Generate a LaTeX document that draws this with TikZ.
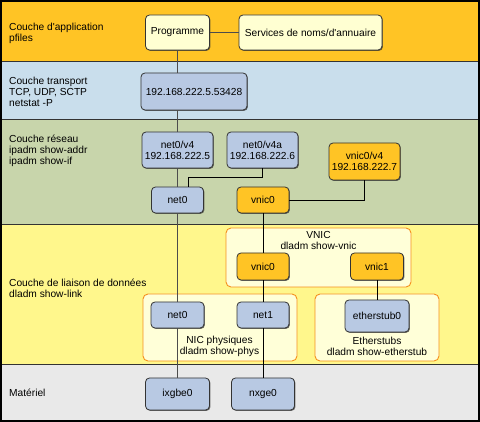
\documentclass[tikz,border=0pt]{standalone}
\usepackage{fontspec}
\setmainfont{Liberation Sans}
\usetikzlibrary{shadows}

\definecolor{bandapp}{HTML}{FFC425}
\definecolor{bandtrp}{HTML}{C9DEEC}
\definecolor{bandnet}{HTML}{C8D5AB}
\definecolor{bandlnk}{HTML}{FFF78C}
\definecolor{bandhw}{HTML}{E9E9E9}
\definecolor{boxblue}{HTML}{B8C9E3}
\definecolor{boxpale}{HTML}{FFFFD2}
\definecolor{boxorng}{HTML}{FFC425}
\definecolor{grpline}{HTML}{F5901E}
\definecolor{grpfill}{HTML}{FFFFD8}

\tikzset{
  band/.style={draw=black!80,line width=1pt},
  nbox/.style={draw=black!80,line width=0.8pt,rounded corners=4pt,align=center,inner sep=2pt,
    drop shadow={shadow xshift=0.9pt,shadow yshift=-0.9pt,opacity=0.7,fill=black!80}},
  bluebox/.style={nbox,fill=boxblue},
  palebox/.style={nbox,fill=boxpale},
  orngbox/.style={nbox,fill=boxorng},
  grpbox/.style={draw=grpline,fill=grpfill,line width=0.9pt,rounded corners=5pt},
  lbl/.style={anchor=west,align=left,inner sep=0pt},
  mainlink/.style={draw=black!70,line width=1.5pt},
  sidelink/.style={draw=black,line width=0.8pt}
}

\begin{document}
\begin{tikzpicture}[x=1pt,y=-1pt,font=\fontsize{10.2}{11}\selectfont]
        \useasboundingbox (0,0) rectangle (480,422);
        % \draw[step=20,gray,very thin] (0,0) grid (480,422);

        % layers
        \draw[band,fill=bandapp] (1,1) rectangle (478,62);
        \draw[band,fill=bandtrp] (1,62) rectangle (478,120);
        \draw[band,fill=bandnet] (1,120) rectangle (478,225);
        \draw[band,fill=bandlnk] (1,225) rectangle (478,365);
        \draw[band,fill=bandhw] (1,365) rectangle (478,421);
        \draw[line width=2pt] (1,1) rectangle (479,421);

        \node[lbl] (lapp) at (9,33.5) {Couche d\textquotesingle application\\pfiles};
        \node[lbl] (ltrp) at (9,92) {Couche transport\\TCP, UDP, SCTP\\netstat -P};
        \node[lbl] (lnet) at (9,151) {Couche réseau\\ipadm show-addr\\ipadm show-if};
        \node[lbl] (llnk) at (9,288.5) {Couche de liaison de données\\dladm show-link};
        \node[lbl] (lhw) at (9,393) {Matériel};

        % groups
        \draw[grpbox] (226,228) rectangle (411,287);
        \draw[grpbox] (143,294) rectangle (297,361);
        \draw[grpbox] (315,294) rectangle (439,361);
        \node[align=center] (gvnic) at (318.5,240.5) {VNIC\\dladm show-vnic};
        \node[align=center] (gphys) at (219.5,346) {NIC physiques\\dladm show-phys};
        \node[align=center] (gstub) at (377,346) {Etherstubs\\dladm show-etherstub};

        % application / transport
        \node[palebox,minimum width=64pt,minimum height=35pt] (prog) at (177.5,32.5) {Programme};
        \node[palebox,minimum width=143pt,minimum height=35pt] (svc) at (310.5,32.5) {Services de noms/d\textquotesingle annuaire};
        \node[bluebox,minimum width=106pt,minimum height=37pt] (tcp) at (194,91.5) {192.168.222.5.53428};

        % network
        \node[bluebox,minimum width=71pt,minimum height=36pt] (netv4) at (177.5,150) {net0/v4\\192.168.222.5};
        \node[bluebox,minimum width=71pt,minimum height=36pt] (netv4a) at (262.5,150) {net0/v4a\\192.168.222.6};
        \node[orngbox,minimum width=71pt,minimum height=37pt] (vnicv4) at (364.5,161.5) {vnic0/v4\\192.168.222.7};
        \node[bluebox,minimum width=52pt,minimum height=26pt] (ipnet) at (177.5,200) {net0};
        \node[orngbox,minimum width=52pt,minimum height=26pt] (ipvnic) at (263,200) {vnic0};

        % data link
        \node[orngbox,minimum width=52pt,minimum height=27pt] (dlvnic0) at (263,266.5) {vnic0};
        \node[orngbox,minimum width=53pt,minimum height=27pt] (dlvnic1) at (377,266.5) {vnic1};
        \node[bluebox,minimum width=53pt,minimum height=26pt] (dlnet0) at (177.5,315) {net0};
        \node[bluebox,minimum width=52pt,minimum height=26pt] (dlnet1) at (263,315) {net1};
        \node[bluebox,minimum width=64pt,minimum height=32pt] (stub) at (377,316) {etherstub0};

        % hardware
        \node[bluebox,minimum width=64pt,minimum height=32pt] (ixgbe) at (177.5,394) {ixgbe0};
        \node[bluebox,minimum width=63pt,minimum height=32pt] (nxge) at (263,394) {nxge0};

        % links
        \draw[mainlink] (prog) -- (svc);
        \draw[mainlink] (prog) -- (prog |- tcp.north);
        \draw[mainlink] (netv4 |- tcp.south) -- (netv4);
        \draw[mainlink] (netv4) -- (ipnet);
        \draw[mainlink] (ipnet) -- (dlnet0);
        \draw[mainlink] (dlnet0) -- (ixgbe);
        \draw[sidelink] (netv4a.south) -- ++(0,9) -| ([xshift=11pt]ipnet.north);
        \draw[sidelink] (vnicv4.south) |- (ipvnic.east);
        \draw[sidelink] (ipvnic) -- (dlvnic0);
        \draw[sidelink] (dlvnic0) -- (dlnet1);
        \draw[sidelink] (dlnet1) -- (nxge);
        \draw[sidelink] (dlvnic1) -- (stub);

      \end{tikzpicture}
\end{document}
